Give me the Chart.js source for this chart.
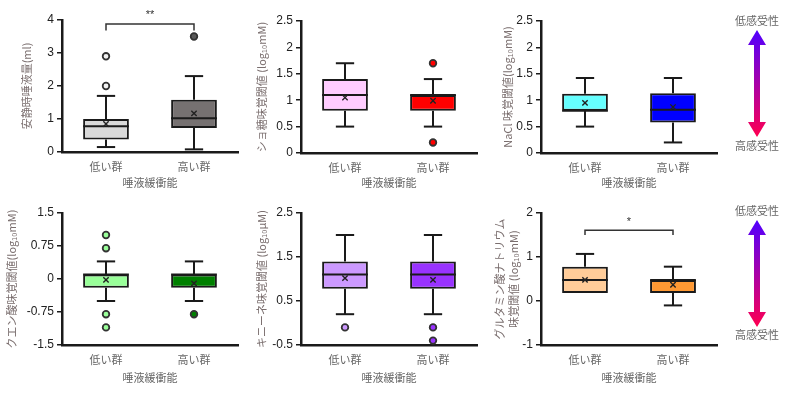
<!DOCTYPE html>
<html>
<head>
<meta charset="utf-8">
<script src="https://cdn.jsdelivr.net/npm/chart.js@4.4.0/dist/chart.umd.min.js"></script>
<style>
  html, body { margin: 0; padding: 0; background: #ffffff; }
  #wrap { position: relative; width: 800px; height: 393px; overflow: hidden; background: #fff; }
  canvas { position: absolute; }
  svg { position: absolute; left: 720px; top: 0; }
</style>
</head>
<body>
<div id="wrap">
  <canvas id="c1" width="250" height="195" style="left:0px;top:0px"></canvas>
  <canvas id="c2" width="240" height="195" style="left:250px;top:0px"></canvas>
  <canvas id="c3" width="240" height="195" style="left:490px;top:0px"></canvas>
  <canvas id="c4" width="250" height="198" style="left:0px;top:195px"></canvas>
  <canvas id="c5" width="240" height="198" style="left:250px;top:195px"></canvas>
  <canvas id="c6" width="240" height="198" style="left:490px;top:195px"></canvas>
  <svg width="80" height="393" viewBox="720 0 80 393">
    <defs>
      <linearGradient id="g1" x1="0" y1="0" x2="0" y2="1">
        <stop offset="0" stop-color="#5000ff"/>
        <stop offset="1" stop-color="#ff0050"/>
      </linearGradient>
    </defs>
    <text x="757" y="25" text-anchor="middle" font-family="'Noto Sans CJK JP', sans-serif" font-size="11" fill="#666">低感受性</text>
    <polygon points="757,30 766,45 760,45 760,122 766,122 757,137 748,122 754,122 754,45 748,45" fill="url(#g1)"/>
    <text x="757" y="150" text-anchor="middle" font-family="'Noto Sans CJK JP', sans-serif" font-size="11" fill="#666">高感受性</text>
    <text x="757" y="215" text-anchor="middle" font-family="'Noto Sans CJK JP', sans-serif" font-size="11" fill="#666">低感受性</text>
    <polygon points="757,220 766,235 760,235 760,312 766,312 757,327 748,312 754,312 754,235 748,235" fill="url(#g1)"/>
    <text x="757" y="339" text-anchor="middle" font-family="'Noto Sans CJK JP', sans-serif" font-size="11" fill="#666">高感受性</text>
  </svg>
</div>
<script>
// ---------- data ----------
const categories = ['低い群', '高い群'];
const xTitle = '唾液緩衝能';

// Panel 1: 安静時唾液量
const p1Min = [0.15, 0.08];
const p1Q1 = [0.38, 0.73];
const p1Median = [0.78, 1.02];
const p1Q3 = [1.0, 1.58];
const p1Max = [1.7, 2.3];
const p1Mean = [0.85, 1.17];
const p1Outliers = [[2.0, 2.9], [3.5]];
const p1Ticks = [0, 1, 2, 3, 4];
const p1Sig = ['**', 3.88, 3.68];

// Panel 2: ショ糖
const p2Min = [0.5, 0.5];
const p2Q1 = [0.8, 0.8];
const p2Median = [1.1, 1.1];
const p2Q3 = [1.4, 1.1];
const p2Max = [1.7, 1.4];
const p2Mean = [1.05, 0.99];
const p2Outliers = [[], [1.7, 0.2]];
const p2Ticks = [0, 0.5, 1, 1.5, 2, 2.5];

// Panel 3: NaCl
const p3Min = [0.5, 0.2];
const p3Q1 = [0.8, 0.58];
const p3Median = [0.8, 0.82];
const p3Q3 = [1.12, 1.13];
const p3Max = [1.42, 1.42];
const p3Mean = [0.95, 0.87];
const p3Outliers = [[], []];
const p3Ticks = [0, 0.5, 1, 1.5, 2, 2.5];

// Panel 4: クエン酸
const p4Min = [-0.5, -0.5];
const p4Q1 = [-0.2, -0.2];
const p4Median = [0.1, 0.1];
const p4Q3 = [0.1, 0.1];
const p4Max = [0.4, 0.4];
const p4Mean = [-0.02, -0.1];
const p4Outliers = [[1.0, 0.7, -0.8, -1.1], [-0.8]];
const p4Ticks = [-1.5, -0.75, 0, 0.75, 1.5];

// Panel 5: キニーネ
const p5Min = [0.2, 0.2];
const p5Q1 = [0.78, 0.78];
const p5Median = [1.1, 1.1];
const p5Q3 = [1.4, 1.4];
const p5Max = [2.0, 2.0];
const p5Mean = [1.02, 0.98];
const p5Outliers = [[-0.1], [-0.1, -0.4]];
const p5Ticks = [-0.5, 0.5, 1.5, 2.5];

// Panel 6: グルタミン酸ナトリウム
const p6Min = [0.18, -0.1];
const p6Q1 = [0.18, 0.18];
const p6Median = [0.48, 0.48];
const p6Q3 = [0.78, 0.48];
const p6Max = [1.07, 0.78];
const p6Mean = [0.48, 0.37];
const p6Outliers = [[], []];
const p6Ticks = [-1, 0, 1, 2];
const p6Sig = ['*', 1.61, 1.5];

// ---------- styling ----------
const FONT = "'Liberation Sans', 'Noto Sans CJK JP', sans-serif";
const CJK = "'Noto Sans CJK JP', 'Liberation Sans', sans-serif";
const INK = '#1a1a1a';

const panels = [
  { id: 'c1', w: 250, h: 195, L: 62, R: 238, T: 20, B: 152, tpad: 20, xtb: 6,
    title: '安静時唾液量(ml)', colors: ['#d9d9d9', '#767171'], outColors: ['#f2f2f2', '#595959'],
    min: p1Min, q1: p1Q1, med: p1Median, q3: p1Q3, max: p1Max, mean: p1Mean, out: p1Outliers, ticks: p1Ticks, sig: p1Sig },
  { id: 'c2', w: 240, h: 195, L: 51, R: 227, T: 21, B: 153, tpad: 5, xtb: 6,
    title: 'ショ糖味覚閾値 (log₁₀mM)', colors: ['#ffccff', '#ff0000'], outColors: ['#ffccff', '#ff0000'],
    min: p2Min, q1: p2Q1, med: p2Median, q3: p2Q3, max: p2Max, mean: p2Mean, out: p2Outliers, ticks: p2Ticks },
  { id: 'c3', w: 240, h: 195, L: 51, R: 227, T: 21, B: 153, tpad: 11, xtb: 6,
    title: 'NaCl 味覚閾値(log₁₀mM)', colors: ['#66ffff', '#0000ff'], outColors: ['#66ffff', '#0000ff'],
    min: p3Min, q1: p3Q1, med: p3Median, q3: p3Q3, max: p3Max, mean: p3Mean, out: p3Outliers, ticks: p3Ticks },
  { id: 'c4', w: 250, h: 198, L: 62, R: 238, T: 18, B: 150, tpad: 5, xtb: 9,
    title: 'クエン酸味覚閾値(log₁₀mM)', colors: ['#99ff99', '#008000'], outColors: ['#99ff99', '#008000'],
    min: p4Min, q1: p4Q1, med: p4Median, q3: p4Q3, max: p4Max, mean: p4Mean, out: p4Outliers, ticks: p4Ticks },
  { id: 'c5', w: 240, h: 198, L: 51, R: 227, T: 18, B: 150, tpad: 5, xtb: 9,
    title: 'キニーネ味覚閾値 (log₁₀μM)', colors: ['#cc99ff', '#9933ff'], outColors: ['#cc99ff', '#9933ff'],
    min: p5Min, q1: p5Q1, med: p5Median, q3: p5Q3, max: p5Max, mean: p5Mean, out: p5Outliers, ticks: p5Ticks },
  { id: 'c6', w: 240, h: 198, L: 51, R: 227, T: 18, B: 150, tpad: 3, xtb: 9,
    title: ['グルタミン酸ナトリウム', '味覚閾値 (log₁₀mM)'], colors: ['#ffcc99', '#ff9933'], outColors: ['#ffcc99', '#ff9933'],
    min: p6Min, q1: p6Q1, med: p6Median, q3: p6Q3, max: p6Max, mean: p6Mean, out: p6Outliers, ticks: p6Ticks, sig: p6Sig }
];

const boxPlugin = {
  id: 'boxplot',
  beforeDatasetsDraw(chart, args, opts) {
    const { ctx, scales: { x, y } } = chart;
    const meta = chart.getDatasetMeta(0);
    ctx.save();
    ctx.strokeStyle = INK;
    ctx.lineWidth = 2;
    opts.min.forEach((mn, i) => {
      const cx = Math.round(x.getPixelForValue(i));
      const half = meta.data[i].width * 0.2;
      const seg = (a, b) => {
        if (a === b) return;
        const ya = y.getPixelForValue(a), yb = y.getPixelForValue(b);
        ctx.beginPath(); ctx.moveTo(cx, ya); ctx.lineTo(cx, yb); ctx.stroke();
        ctx.beginPath(); ctx.moveTo(cx - half, yb); ctx.lineTo(cx + half, yb); ctx.stroke();
      };
      seg(opts.q1[i], mn);
      seg(opts.q3[i], opts.max[i]);
    });
    ctx.restore();
  },
  afterDatasetDraw(chart, args, opts) {
    if (args.index !== 0) return;
    const { ctx, scales: { y } } = chart;
    const meta = chart.getDatasetMeta(0);
    ctx.save();
    ctx.strokeStyle = INK;
    ctx.lineWidth = 2;
    opts.med.forEach((m, i) => {
      const bar = meta.data[i];
      const yy = y.getPixelForValue(m);
      ctx.beginPath();
      ctx.moveTo(bar.x - bar.width / 2, yy);
      ctx.lineTo(bar.x + bar.width / 2, yy);
      ctx.stroke();
    });
    ctx.restore();
  },
  afterDraw(chart, args, opts) {
    if (!opts.sig) return;
    const { ctx, scales: { x, y } } = chart;
    const [label, top, drop] = opts.sig;
    const x0 = x.getPixelForValue(0), x1 = x.getPixelForValue(1);
    const yt = y.getPixelForValue(top), yd = y.getPixelForValue(drop);
    ctx.save();
    ctx.strokeStyle = '#333';
    ctx.lineWidth = 1.5;
    ctx.beginPath();
    ctx.moveTo(x0, yd); ctx.lineTo(x0, yt); ctx.lineTo(x1, yt); ctx.lineTo(x1, yd);
    ctx.stroke();
    ctx.fillStyle = '#333';
    ctx.font = '11px ' + FONT;
    ctx.textAlign = 'center';
    ctx.textBaseline = 'bottom';
    ctx.fillText(label, (x0 + x1) / 2, yt - 3);
    ctx.restore();
  }
};

panels.forEach(p => {
  const outData = [], outBg = [];
  p.out.forEach((arr, i) => arr.forEach(v => { outData.push({ x: categories[i], y: v }); outBg.push(p.outColors[i]); }));
  const ticks = p.ticks;
  new Chart(document.getElementById(p.id), {
    type: 'bar',
    data: {
      labels: categories,
      datasets: [
        { type: 'bar', order: 2, data: categories.map((c, i) => [p.q1[i], p.q3[i]]),
          backgroundColor: p.colors, borderColor: INK, borderWidth: 2, borderSkipped: false,
          barPercentage: 0.52, categoryPercentage: 1 },
        { type: 'line', order: 1, showLine: false, data: outData,
          pointStyle: 'circle', pointRadius: 3.3, pointBorderWidth: 1.8,
          pointBorderColor: '#333', pointBackgroundColor: outBg },
        { type: 'line', order: 0, showLine: false,
          data: categories.map((c, i) => ({ x: c, y: p.mean[i] })),
          pointStyle: 'crossRot', pointRadius: 3.8, pointBorderWidth: 1.4,
          pointBorderColor: '#222', pointBackgroundColor: '#222' }
      ]
    },
    options: {
      responsive: false,
      animation: false,
      devicePixelRatio: 1,
      layout: { padding: { top: p.T, right: p.w - p.R, left: 0, bottom: 0 } },
      plugins: {
        legend: { display: false },
        tooltip: { enabled: false },
        boxplot: { min: p.min, q1: p.q1, med: p.med, q3: p.q3, max: p.max, sig: p.sig }
      },
      scales: {
        x: {
          type: 'category',
          offset: true,
          grid: { display: false },
          border: { display: true, width: 2.5, color: INK },
          ticks: { color: '#666', font: { size: 11, family: CJK }, padding: 0 },
          title: { display: true, text: xTitle, color: '#666', font: { size: 11, family: CJK }, padding: { top: 0, bottom: p.xtb } },
          afterFit(s) { s.height = p.h - p.B; }
        },
        y: {
          type: 'linear',
          min: ticks[0],
          max: ticks[ticks.length - 1],
          afterBuildTicks(s) { s.ticks = ticks.map(v => ({ value: v })); },
          grid: { display: true, drawOnChartArea: false, drawTicks: true, tickLength: 5, color: INK, lineWidth: 1.5 },
          border: { display: true, width: 2.5, color: INK },
          ticks: { color: '#222', font: { size: 12, family: FONT }, padding: 3, callback: v => String(v) },
          title: { display: true, text: p.title, color: '#7a6e6e', font: { size: 11, family: CJK, lineHeight: 1.25 }, padding: { top: p.tpad, bottom: 0 } },
          afterFit(s) { s.width = p.L; }
        }
      }
    },
    plugins: [boxPlugin]
  });
});
</script>
</body>
</html>
